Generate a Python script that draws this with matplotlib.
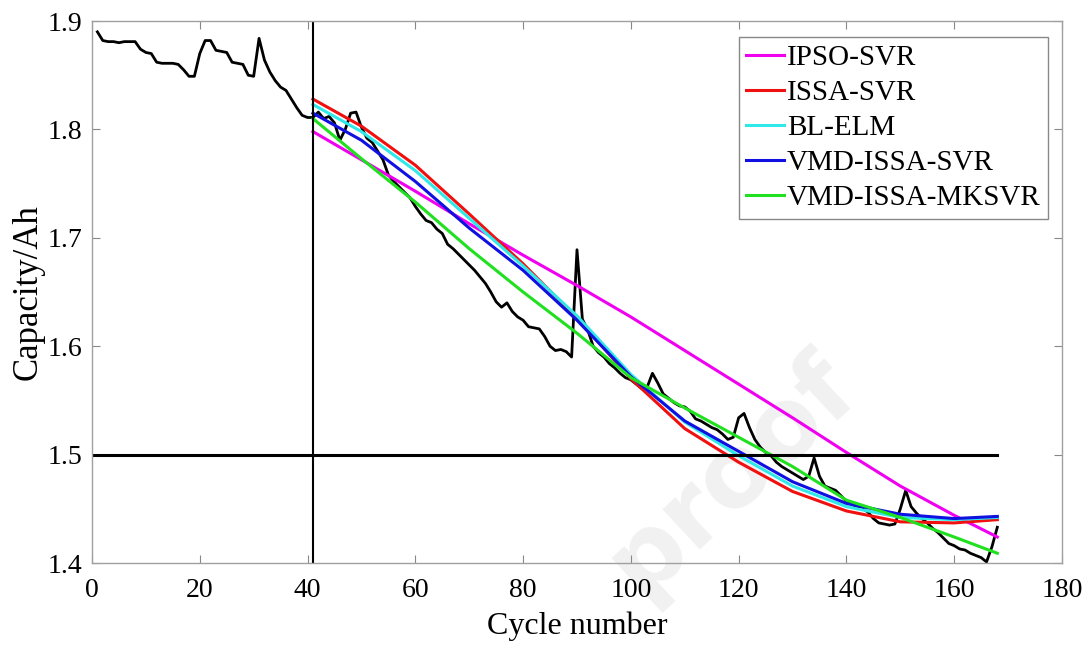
import numpy as np
import matplotlib
matplotlib.use("Agg")
import matplotlib.pyplot as plt

plt.rcParams["font.family"] = ["Liberation Serif", "DejaVu Serif"]

# measured capacity, cycles 1..168
cycles = list(range(1, 169))
capacity = [
    1.890, 1.882, 1.881, 1.881, 1.880, 1.881, 1.881, 1.881, 1.874, 1.871,
    1.870, 1.862, 1.861, 1.861, 1.861, 1.860, 1.855, 1.849, 1.849, 1.870,
    1.882, 1.882, 1.873, 1.872, 1.871, 1.862, 1.861, 1.860, 1.850, 1.849,
    1.884, 1.864, 1.853, 1.845, 1.839, 1.836, 1.828, 1.820, 1.813, 1.811,
    1.811, 1.816, 1.810, 1.812, 1.806, 1.790, 1.800, 1.815, 1.816, 1.802,
    1.792, 1.788, 1.780, 1.772, 1.758, 1.752, 1.747, 1.742, 1.737, 1.729,
    1.722, 1.716, 1.714, 1.708, 1.704, 1.694, 1.690, 1.685, 1.680, 1.675,
    1.670, 1.664, 1.658, 1.650, 1.641, 1.636, 1.640, 1.632, 1.627, 1.624,
    1.618, 1.617, 1.616, 1.609, 1.600, 1.596, 1.597, 1.595, 1.590, 1.689,
    1.625, 1.615, 1.600, 1.594, 1.590, 1.584, 1.580, 1.575, 1.571, 1.569,
    1.565, 1.561, 1.562, 1.575, 1.566, 1.556, 1.552, 1.548, 1.545, 1.544,
    1.540, 1.533, 1.531, 1.528, 1.525, 1.523, 1.519, 1.514, 1.516, 1.534,
    1.538, 1.525, 1.514, 1.507, 1.502, 1.499, 1.493, 1.489, 1.486, 1.483,
    1.480, 1.477, 1.480, 1.497, 1.480, 1.471, 1.469, 1.467, 1.462, 1.457,
    1.454, 1.452, 1.450, 1.447, 1.441, 1.437, 1.436, 1.435, 1.436, 1.450,
    1.467, 1.452, 1.446, 1.441, 1.437, 1.432, 1.428, 1.423, 1.418, 1.416,
    1.413, 1.412, 1.409, 1.407, 1.405, 1.401, 1.415, 1.433,
]

# predictions from cycle 41
pred_cycles = [41, 50, 60, 70, 80, 90, 100, 110, 120, 130, 140, 150, 160, 168]
ipso_svr = [1.798, 1.772, 1.743, 1.713, 1.684, 1.656, 1.627, 1.596, 1.565, 1.534, 1.502, 1.471, 1.444, 1.424]
issa_svr = [1.828, 1.803, 1.767, 1.722, 1.676, 1.626, 1.570, 1.524, 1.493, 1.466, 1.448, 1.438, 1.437, 1.440]
bl_elm = [1.823, 1.798, 1.762, 1.718, 1.674, 1.628, 1.574, 1.530, 1.499, 1.471, 1.452, 1.442, 1.440, 1.442]
vmd_issa_svr = [1.815, 1.790, 1.752, 1.709, 1.670, 1.624, 1.572, 1.531, 1.503, 1.475, 1.455, 1.445, 1.441, 1.443]
vmd_issa_mksvr = [1.810, 1.773, 1.733, 1.690, 1.650, 1.612, 1.571, 1.543, 1.516, 1.489, 1.458, 1.442, 1.424, 1.409]

names = ["IPSO-SVR", "ISSA-SVR", "BL-ELM", "VMD-ISSA-SVR", "VMD-ISSA-MKSVR"]
colors = ["#f000f0", "#f01010", "#30e8e8", "#1010e0", "#20e020"]

threshold = 1.5
start_cycle = 41

fig = plt.figure(figsize=(10.9, 6.53), dpi=100)
ax = fig.add_axes([0.0844, 0.1378, 0.8899, 0.830])
ax.set_facecolor("none")

# faint watermark behind the axes
fig.text(0.79, 0.40, "proof", fontsize=72, color="#f1f1f1",
         rotation=43, ha="right", va="baseline", family="DejaVu Sans",
         fontweight="bold", zorder=-5, rotation_mode="anchor")

ax.plot(cycles, capacity, color="black", lw=2.0)
for vals, name, col in zip([ipso_svr, issa_svr, bl_elm, vmd_issa_svr, vmd_issa_mksvr], names, colors):
    ax.plot(pred_cycles, vals, color=col, lw=2.2, label=name)

ax.plot([0, 168], [threshold, threshold], color="black", lw=2.2)
ax.axvline(start_cycle, color="black", lw=1.5)

ax.set_xlim(0, 180)
ax.set_ylim(1.4, 1.9)
ax.set_xticks(range(0, 181, 20))
ax.set_yticks([1.4, 1.5, 1.6, 1.7, 1.8, 1.9])
ax.set_yticklabels(["1.4", "1.5", "1.6", "1.7", "1.8", "1.9"])
ax.tick_params(direction="in", top=True, right=True, labelsize=20,
               length=6, width=0.8, color="#888888")
ax.tick_params(axis="x", pad=11)
ax.tick_params(axis="y", pad=7)
for s in ax.spines.values():
    s.set_color("#a0a0a0")
    s.set_linewidth(1.0)

ax.set_xlabel("Cycle number", fontsize=23, labelpad=6)
ax.set_ylabel("Capacity/Ah", fontsize=25, labelpad=2)

leg = ax.legend(loc="upper right", bbox_to_anchor=(0.9856, 0.9705), borderaxespad=0,
                fontsize=21, handlelength=1.3, handletextpad=0.1, labelspacing=0.3,
                borderpad=0.25, fancybox=False, framealpha=1)
leg.get_frame().set_edgecolor("#888888")
leg.get_frame().set_linewidth(1.0)

fig.savefig("out.png", dpi=100)
